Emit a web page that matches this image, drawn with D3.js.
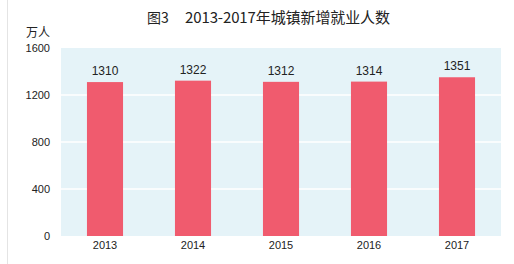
<!DOCTYPE html>
<html>
<head>
<meta charset="utf-8">
<script src="https://cdn.jsdelivr.net/npm/d3@7"></script>
<style>
  body { margin: 0; background: #fff; }
  text { font-family: "Liberation Sans", Arial, sans-serif; }
</style>
</head>
<body>
<div id="chart"></div>
<script>
var years = ["2013", "2014", "2015", "2016", "2017"];
var values = [1310, 1322, 1312, 1314, 1351];
var yTicks = [0, 400, 800, 1200, 1600];

var width = 514, height = 264;
var margin = { top: 48, right: 13, bottom: 28, left: 61 };

var svg = d3.select('#chart')
    .append('svg')
        .attr('width', width)
        .attr('height', height);

// faint left frame line
svg.append('line')
    .attr('x1', 7.5).attr('x2', 7.5)
    .attr('y1', 0).attr('y2', height)
    .attr('stroke', '#e4e4e4');

var g = svg.append('g')
    .attr('transform', 'translate(' + margin.left + ',' + margin.top + ')');

var w = width - margin.left - margin.right;
var h = height - margin.top - margin.bottom;

var xScale = d3.scaleBand()
    .domain(years)
    .range([0, w])
    .paddingInner(0.59)
    .paddingOuter(0.295);

var yScale = d3.scaleLinear()
    .domain([0, 1600])
    .range([h, 0]);

// plot background
g.append('rect')
    .attr('width', w)
    .attr('height', h)
    .attr('fill', '#e5f3f8');

// gridlines
g.selectAll('.grid')
    .data(yTicks.slice(1, 4))
    .enter()
    .append('line')
    .attr('x1', 0).attr('x2', w)
    .attr('y1', function(d) { return yScale(d); })
    .attr('y2', function(d) { return yScale(d); })
    .attr('stroke', '#ffffff')
    .attr('stroke-width', 1.5);

// y axis
var yAxis = d3.axisLeft(yScale).tickValues(yTicks).tickFormat(d3.format('d')).tickSize(0).tickPadding(11);
g.append('g')
    .call(yAxis)
    .call(function(a) { a.select('.domain').remove(); })
    .selectAll('text')
        .style('font-size', '11px')
        .attr('fill', '#222');

// x axis
var xAxis = d3.axisBottom(xScale).tickSize(0).tickPadding(5);
g.append('g')
    .attr('transform', 'translate(0,' + h + ')')
    .call(xAxis)
    .call(function(a) { a.select('.domain').remove(); })
    .selectAll('text')
        .style('font-size', '11px')
        .attr('fill', '#222');

// bars
g.selectAll('.bar')
    .data(values)
    .enter()
    .append('rect')
    .attr('x', function(d, i) { return xScale(years[i]); })
    .attr('y', function(d) { return yScale(d); })
    .attr('width', xScale.bandwidth())
    .attr('height', function(d) { return h - yScale(d); })
    .attr('fill', '#f05b6e');

// value labels
g.selectAll('.lbl')
    .data(values)
    .enter()
    .append('text')
    .attr('x', function(d, i) { return xScale(years[i]) + xScale.bandwidth() / 2; })
    .attr('y', function(d) { return yScale(d) - 7; })
    .attr('text-anchor', 'middle')
    .style('font-size', '12px')
    .attr('fill', '#222')
    .text(function(d) { return d; });

// unit
svg.append('text')
    .attr('x', 26)
    .attr('y', 37)
    .style('font-size', '12px')
    .style('font-family', '"Noto Sans CJK SC", sans-serif')
    .attr('fill', '#222')
    .text('万人');

// title
svg.append('text')
    .attr('x', 147)
    .attr('y', 23)
    .style('font-size', '14px')
    .style('font-family', '"Noto Sans CJK SC", sans-serif')
    .attr('fill', '#222')
    .text('图3');

svg.append('text')
    .attr('x', 185)
    .attr('y', 23)
    .attr('textLength', 205)
    .style('font-size', '15px')
    .style('font-family', '"Noto Sans CJK SC", sans-serif')
    .attr('fill', '#222')
    .text('2013-2017年城镇新增就业人数');
</script>
</body>
</html>
